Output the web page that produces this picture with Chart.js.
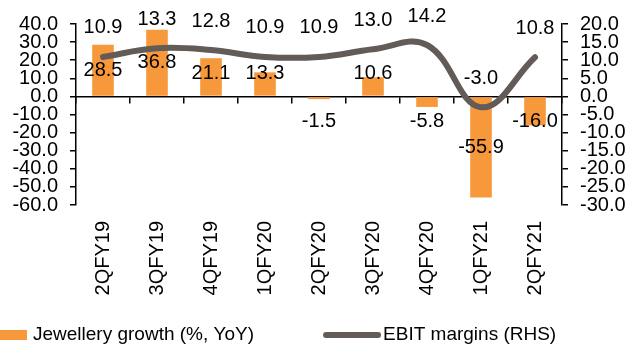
<!DOCTYPE html>
<html>
<head>
<meta charset="utf-8">
<script src="https://cdn.jsdelivr.net/npm/chart.js@4"></script>
<style>
  body { margin: 0; background: #fff; }
</style>
</head>
<body>
<canvas id="chart" width="632" height="349"></canvas>
<script>
// data
var quarters = ['2QFY19', '3QFY19', '4QFY19', '1QFY20', '2QFY20', '3QFY20', '4QFY20', '1QFY21', '2QFY21'];
var jewelleryGrowth = [28.5, 36.8, 21.1, 13.3, -1.5, 10.6, -5.8, -55.9, -16.0];
var ebitMargins = [10.9, 13.3, 12.8, 10.9, 10.9, 13.0, 14.2, -3.0, 10.8];
var leftTicks = { min: -60, max: 40, step: 10 };
var rightTicks = { min: -30, max: 20, step: 5 };

var barColor = '#F7993A';
var lineColor = '#635B57';
var fontFamily = '"Liberation Sans", Arial, sans-serif';

Chart.defaults.font.family = fontFamily;
Chart.defaults.font.size = 20;
Chart.defaults.color = '#000';

// value labels, placed like the original
var valueLabels = {
  id: 'valueLabels',
  afterDatasetsDraw: function(chart) {
    var ctx = chart.ctx;
    ctx.save();
    ctx.font = '20px ' + fontFamily;
    ctx.fillStyle = '#000';
    ctx.textAlign = 'center';
    ctx.textBaseline = 'middle';
    chart.data.datasets.forEach(function(ds, i) {
      var meta = chart.getDatasetMeta(i);
      meta.data.forEach(function(el, j) {
        var v = ds.data[j];
        var y;
        if (ds.type === 'line') {
          y = el.y - 29;
        } else {
          var mid = (el.y + el.base) / 2;
          y = v >= 0 ? Math.min(mid, el.base - 22) : Math.max(mid, el.base + 24);
        }
        ctx.fillText(v.toFixed(1), el.x, y);
      });
    });
    ctx.restore();
  }
};

// legend drawn the way the original lays it out
var bottomLegend = {
  id: 'bottomLegend',
  afterDraw: function(chart) {
    var ctx = chart.ctx;
    var ds = chart.data.datasets;
    var y = 335;
    var x = 0;
    ctx.save();
    ctx.font = '19px ' + fontFamily;
    ctx.textBaseline = 'middle';
    ctx.fillStyle = ds[0].backgroundColor;
    ctx.fillRect(x, y - 5, 27, 10);
    x += 33;
    ctx.fillStyle = '#000';
    ctx.fillText(ds[0].label, x, y);
    x += ctx.measureText(ds[0].label).width + 72;
    ctx.strokeStyle = ds[1].borderColor;
    ctx.lineWidth = 6;
    ctx.lineCap = 'round';
    ctx.beginPath();
    ctx.moveTo(x, y);
    ctx.lineTo(x + 52, y);
    ctx.stroke();
    x += 57;
    ctx.fillText(ds[1].label, x, y);
    ctx.restore();
  }
};

var ctx = document.getElementById('chart').getContext('2d');
var chart = new Chart(ctx, {
  data: {
    labels: quarters,
    datasets: [{
      type: 'bar',
      label: 'Jewellery growth (%, YoY)',
      data: jewelleryGrowth,
      backgroundColor: barColor,
      yAxisID: 'y',
      categoryPercentage: 1,
      barPercentage: 0.4,
      order: 1
    }, {
      type: 'line',
      label: 'EBIT margins (RHS)',
      data: ebitMargins,
      borderColor: lineColor,
      backgroundColor: lineColor,
      borderWidth: 6,
      borderCapStyle: 'round',
      pointRadius: 0,
      tension: 0.4,
      yAxisID: 'y1',
      order: 0
    }]
  },
  options: {
    responsive: false,
    animation: false,
    layout: { padding: { top: 20, left: 0, right: 0, bottom: 0 } },
    plugins: {
      legend: { display: false },
      tooltip: { enabled: false }
    },
    scales: {
      x: {
        offset: true,
        grid: { display: false, drawTicks: false },
        border: { display: false },
        ticks: { minRotation: 90, maxRotation: 90, autoSkip: false, padding: 16 },
        afterFit: function(s) { s.height = 144; }
      },
      x0: {
        type: 'category',
        position: { y: 0 },
        offset: true,
        grid: { offset: true, drawOnChartArea: false, drawTicks: true, tickLength: 6, color: '#000', lineWidth: 1.5 },
        border: { display: true, color: '#000', width: 1.5 },
        ticks: { display: false }
      },
      y: {
        position: 'left',
        min: leftTicks.min,
        max: leftTicks.max,
        ticks: { stepSize: leftTicks.step, autoSkip: false, padding: 12, callback: function(v) { return v.toFixed(1); } },
        grid: { drawOnChartArea: false, tickLength: 6, color: '#000', lineWidth: 1.5 },
        border: { color: '#000', width: 1.5 },
        afterFit: function(s) { s.width = 76; }
      },
      y1: {
        position: 'right',
        min: rightTicks.min,
        max: rightTicks.max,
        ticks: { stepSize: rightTicks.step, autoSkip: false, padding: 12, callback: function(v) { return v.toFixed(1); } },
        grid: { drawOnChartArea: false, tickLength: 6, color: '#000', lineWidth: 1.5 },
        border: { color: '#000', width: 1.5 },
        afterFit: function(s) { s.width = 70; }
      }
    }
  },
  plugins: [valueLabels, bottomLegend]
});
</script>
</body>
</html>
